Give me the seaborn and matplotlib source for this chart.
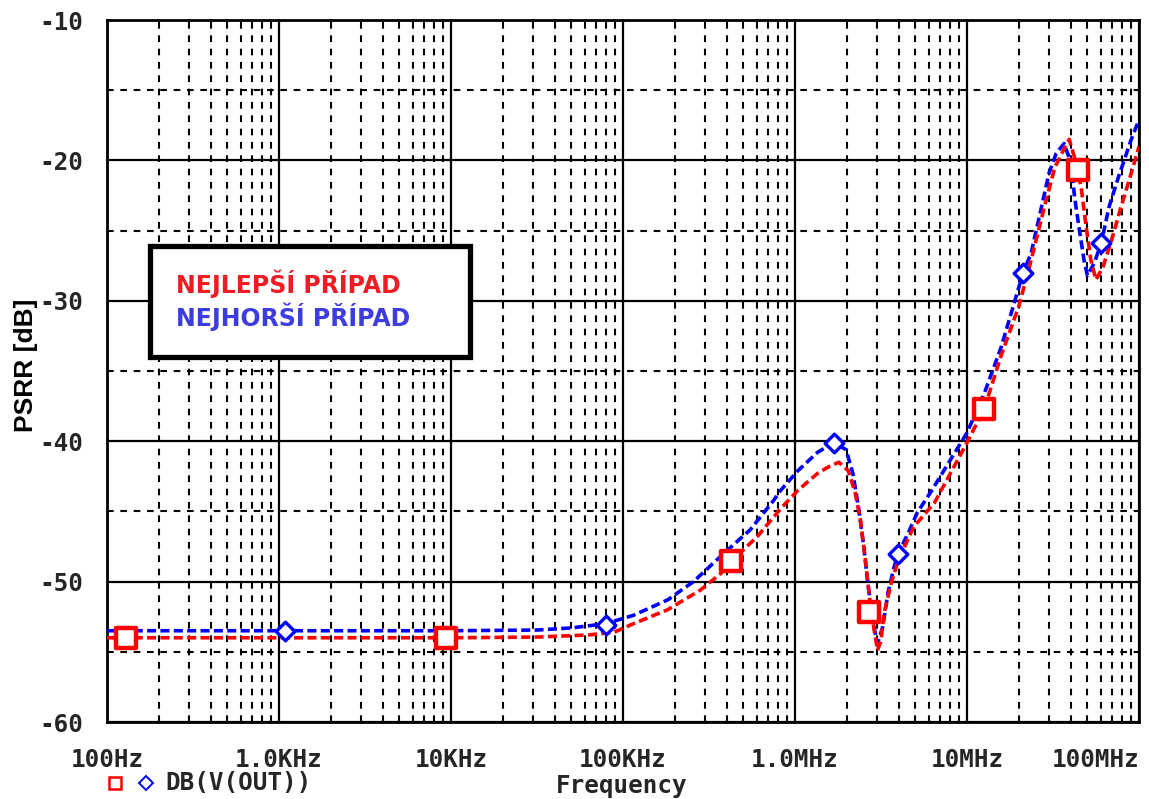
import numpy as np
import pandas as pd
import matplotlib
matplotlib.use("Agg")
import matplotlib.pyplot as plt
import seaborn as sns
from matplotlib.ticker import FixedLocator, NullFormatter, MultipleLocator
from matplotlib.patches import Rectangle
from matplotlib.lines import Line2D

# ---------------- data ----------------
best_freq = [1e2, 1e3, 1e4, 3.16e4, 6.31e4, 8.91e4, 1.15e5, 1.82e5, 2.82e5, 3.72e5, 4.23e5,
             6.03e5, 8.26e5, 1.04e6, 1.35e6, 1.58e6, 1.80e6, 2.04e6, 2.24e6, 2.40e6,
             2.57e6, 2.72e6, 2.88e6, 3.02e6, 3.16e6, 3.29e6, 3.63e6, 3.98e6, 4.90e6,
             6.46e6, 1.0e7, 1.26e7, 1.58e7, 2.0e7, 2.36e7, 2.82e7, 3.24e7, 3.63e7,
             3.93e7, 4.22e7, 4.61e7, 4.90e7, 5.25e7, 5.62e7, 6.17e7, 6.92e7, 7.87e7,
             9.02e7, 1.0e8]
best_db = [-54.0, -54.0, -54.0, -53.95, -53.8, -53.6, -53.0, -52.0, -50.6, -49.4, -48.6,
           -46.8, -44.8, -43.5, -42.3, -41.8, -41.5, -42.1, -43.7, -45.6,
           -48.5, -51.3, -53.4, -54.9, -54.2, -52.3, -50.1, -48.5, -46.1,
           -44.4, -40.1, -37.7, -33.9, -30.4, -27.1, -23.3, -20.5, -19.3,
           -18.5, -19.8, -21.9, -24.5, -27.1, -28.5, -27.6, -25.7, -23.3,
           -20.9, -19.0]

worst_freq = [1e2, 1e3, 1e4, 3.16e4, 5.01e4, 7.92e4, 1.15e5, 1.82e5, 2.57e5, 3.85e5, 5.5e5,
              7.53e5, 8.26e5, 1.04e6, 1.35e6, 1.68e6, 1.98e6, 2.17e6, 2.34e6, 2.51e6,
              2.65e6, 2.82e6, 2.95e6, 3.02e6, 3.24e6, 3.47e6, 3.76e6, 3.98e6, 4.57e6,
              5.13e6, 6.17e6, 1.0e7, 1.26e7, 1.58e7, 2.12e7, 2.36e7, 2.69e7, 3.0e7,
              3.30e7, 3.67e7, 4.03e7, 4.22e7, 4.47e7, 4.79e7, 5.01e7, 5.5e7, 6.03e7,
              6.70e7, 7.59e7, 9.02e7, 1.0e8]
worst_db = [-53.5, -53.5, -53.5, -53.45, -53.3, -53.0, -52.4, -51.3, -50.0, -48.0, -46.3,
            -44.2, -43.5, -42.1, -40.8, -40.1, -40.6, -42.3, -44.7, -47.5,
            -50.1, -52.5, -53.9, -54.4, -53.2, -50.8, -49.0, -48.0, -46.5,
            -45.1, -43.6, -39.4, -36.6, -33.3, -28.0, -26.6, -23.5, -20.9,
            -19.5, -18.8, -20.2, -22.6, -24.7, -27.1, -28.2, -27.3, -25.9,
            -23.3, -21.2, -18.5, -17.1]

best_mark_freq = [129, 9.3e3, 4.23e5, 2.69e6, 1.26e7, 4.43e7]
best_mark_db = [-54.0, -54.0, -48.5, -52.2, -37.7, -20.7]
worst_mark_freq = [1.09e3, 7.92e4, 1.68e6, 3.98e6, 2.12e7, 6.03e7]
worst_mark_db = [-53.5, -53.1, -40.1, -48.0, -28.0, -25.9]

xtick_vals = [1e2, 1e3, 1e4, 1e5, 1e6, 1e7, 1e8]
xtick_labels = ["100Hz", "1.0KHz", "10KHz", "100KHz", "1.0MHz", "10MHz", "100MHz"]
ytick_vals = [-60, -50, -40, -30, -20, -10]
ytick_labels = ["-60", "-50", "-40", "-30", "-20", "-10"]

label_best = "NEJLEPŠÍ PŘÍPAD"
label_worst = "NEJHORŠÍ PŘÍPAD"
trace_name = "DB(V(OUT))"

RED = "#ff0000"
BLUE = "#0000ff"

# ---------------- plot ----------------
sns.set_style("white")
plt.rcParams["font.family"] = ["DejaVu Sans Mono", "DejaVu Sans"]
mono = {"family": "DejaVu Sans Mono", "weight": "bold", "size": 17.5}

W, H = 1149, 799
fig = plt.figure(figsize=(W / 100, H / 100), dpi=100)
L, R, T, B = 107, 1139, 20, 722
ax = fig.add_axes([L / W, 1 - B / H, (R - L) / W, (B - T) / H])

df_best = pd.DataFrame({"f": best_freq, "db": best_db})
df_worst = pd.DataFrame({"f": worst_freq, "db": worst_db})

dash = (0, (2.5, 1.2))
sns.lineplot(data=df_worst, x="f", y="db", ax=ax, color=BLUE, lw=2.6,
             linestyle=dash, zorder=4)
sns.lineplot(data=df_best, x="f", y="db", ax=ax, color=RED, lw=2.6,
             linestyle=dash, zorder=5)

sns.scatterplot(x=best_mark_freq, y=best_mark_db, ax=ax, marker="s", s=190,
                facecolor="white", edgecolor=RED, linewidth=3.2, zorder=6)
sns.scatterplot(x=worst_mark_freq, y=worst_mark_db, ax=ax, marker="D", s=90,
                facecolor="white", edgecolor=BLUE, linewidth=2.4, zorder=6)

ax.set_xscale("log")
ax.set_xlim(1e2, 1e8)
ax.set_ylim(-60, -10)

ax.set_xticks(xtick_vals)
ax.set_xticklabels(xtick_labels, fontdict=mono)
minor_x = [m * d for d in [1e2, 1e3, 1e4, 1e5, 1e6, 1e7] for m in range(2, 10)]
ax.xaxis.set_minor_locator(FixedLocator(minor_x))
ax.xaxis.set_minor_formatter(NullFormatter())
ax.set_yticks(ytick_vals)
ax.set_yticklabels(ytick_labels, fontdict=mono)
ax.yaxis.set_minor_locator(MultipleLocator(5))

ax.tick_params(which="major", direction="out", length=11, width=1.8, color="black", pad=6)
ax.tick_params(axis="x", which="major", pad=8)
ax.tick_params(which="minor", length=0)
xl = ax.get_xticklabels()
xl[-1].set_horizontalalignment("right")

ax.grid(which="major", color="black", lw=1.6, ls="-", zorder=1)
ax.grid(which="minor", color="black", lw=1.5, ls=(0, (3.2, 3.2)), zorder=1)
ax.set_axisbelow(True)
for s in ax.spines.values():
    s.set_color("black")
    s.set_linewidth(2.0)
    s.set_visible(True)

ax.set_xlabel("")
ax.set_ylabel("")

# y label
fig.text(26 / W, 1 - 365 / H, "PSRR [dB]", rotation=90, ha="center", va="center",
         family="Liberation Sans", weight="bold", fontsize=19, color="black")
# x label
fig.text(622 / W, 1 - 786 / H, "Frequency", ha="center", va="center", fontdict=mono)

# legend at bottom
fig.add_artist(Line2D([115 / W], [1 - 783 / H], marker="s", markersize=9,
                      markerfacecolor="white", markeredgecolor=RED, markeredgewidth=1.8,
                      transform=fig.transFigure, linestyle="none"))
fig.add_artist(Line2D([146 / W], [1 - 783 / H], marker="D", markersize=7.5,
                      markerfacecolor="white", markeredgecolor=BLUE, markeredgewidth=1.4,
                      transform=fig.transFigure, linestyle="none"))
fig.text(165 / W, 1 - 783 / H, trace_name, ha="left", va="center", fontdict=mono)

# annotation box
bx0, bx1, by0, by1 = 150, 470, 246, 357
fig.add_artist(Rectangle((bx0 / W, 1 - by1 / H), (bx1 - bx0) / W, (by1 - by0) / H,
                         transform=fig.transFigure, facecolor="white",
                         edgecolor="black", linewidth=3.8, zorder=10))
fig.text(176 / W, 1 - 284 / H, label_best, ha="left", va="center",
         family="DejaVu Sans", weight="bold", fontsize=17, color="#f01c24", zorder=11)
fig.text(176 / W, 1 - 317 / H, label_worst, ha="left", va="center",
         family="DejaVu Sans", weight="bold", fontsize=17, color="#3c3ce0", zorder=11)

fig.savefig("out.png", dpi=100, facecolor="white")
